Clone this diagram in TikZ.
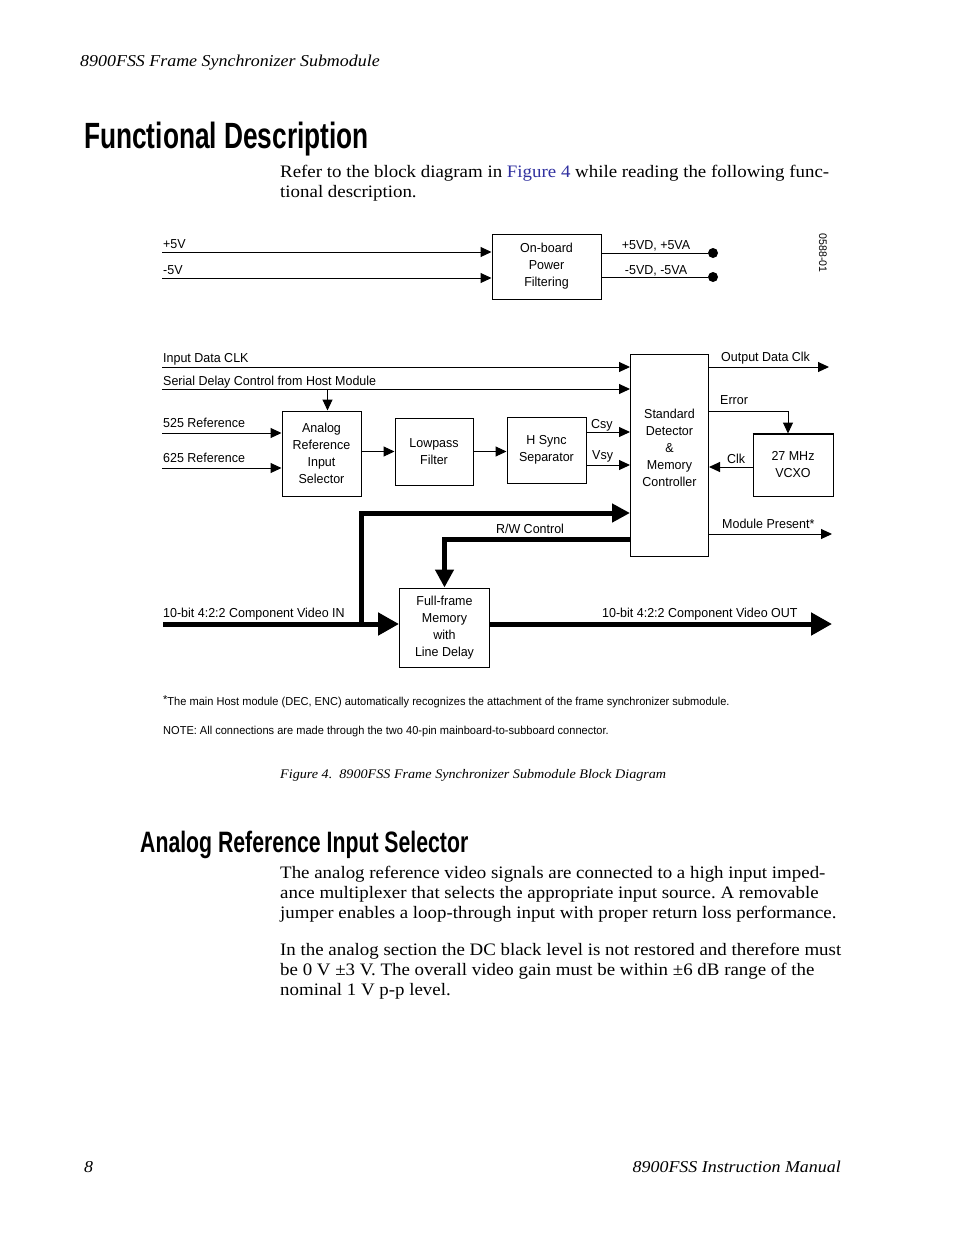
\documentclass[tikz,border=0pt]{standalone}
\usepackage{fontspec}
\setmainfont[FakeStretch=1.08]{Liberation Serif}
\newfontfamily\diagfont[FakeStretch=0.96]{Liberation Sans}
\newfontfamily\headfont[FakeStretch=0.72]{Liberation Sans}
\usetikzlibrary{positioning,arrows.meta}
\definecolor{linkblue}{RGB}{48,48,160}
\newcommand{\dsize}{\fontsize{13}{17}\selectfont}
\newcommand{\bodysize}{\fontsize{17.5}{20}\selectfont}
\frenchspacing

\begin{document}
\begin{tikzpicture}[x=1pt, y=-1pt,
  blk/.style={draw, line width=1pt, align=center, inner sep=0pt, font=\diagfont\dsize},
  lbl/.style={anchor=base west, inner sep=0pt, font=\diagfont\dsize},
  note/.style={anchor=base west, inner sep=0pt, font=\diagfont\fontsize{11.5}{14}\selectfont},
  body/.style={anchor=base west, inner sep=0pt, font=\bodysize},
  arr/.style={-{Triangle[length=11pt,width=10pt]}, line width=1pt},
  bus/.style={-{Triangle[length=18pt,width=18pt]}, line width=5pt},
  busbig/.style={-{Triangle[length=21pt,width=22pt]}, line width=5pt},
  dot/.style={circle, fill, inner sep=0pt, minimum size=10pt},
]
\fill[white] (0,0) rectangle (954,1235);
\useasboundingbox (0,0) rectangle (954,1235);

% page text
\node[anchor=base west, inner sep=0pt, font=\itshape\fontsize{16.6}{20}\selectfont] (hdr) at (80,66) {8900FSS Frame Synchronizer Submodule};
\node[anchor=base west, inner sep=0pt, font=\headfont\bfseries\fontsize{36.5}{40}\selectfont] (title) at (84,148) {Functional Description};
\node[body] (intro1) at (280,177) {Refer to the block diagram in \textcolor{linkblue}{Figure 4} while reading the following func-};
\node[body] (intro2) at (280,197) {tional description.};

% power section
\node[blk, minimum width=109pt, minimum height=65pt] (pwr) at (546.5,266.5) {On-board\\Power\\Filtering};
\coordinate (p5in) at (162,252);
\coordinate (m5in) at (162,278);
\node[lbl] (p5lbl) at (163,248) {+5V};
\node[lbl] (m5lbl) at (163,274) {-5V};
\draw[arr] (p5in) -- (pwr.west |- p5in);
\draw[arr] (m5in) -- (pwr.west |- m5in);
\node[dot] (p5out) at (713,253) {};
\node[dot] (m5out) at (713,277) {};
\draw[line width=1pt] (pwr.east |- p5out) -- (p5out);
\draw[line width=1pt] (pwr.east |- m5out) -- (m5out);
\node[lbl, anchor=base] (p5olbl) at (656,249) {+5VD, +5VA};
\node[lbl, anchor=base] (m5olbl) at (656,274) {-5VD, -5VA};
\node[rotate=-90, inner sep=0pt, font=\diagfont\fontsize{11}{11}\selectfont] (figid) at (823,253) {0588-01};

% main blocks
\node[blk, minimum width=79pt, minimum height=85pt] (anasel) at (321.5,453.5) {Analog\\Reference\\Input\\Selector};
\node[blk, minimum width=78pt, minimum height=67pt] (lpf) at (434,451.5) {Lowpass\\Filter};
\node[blk, minimum width=79pt, minimum height=66pt] (hsync) at (546.5,450) {H Sync\\Separator};
\node[blk, minimum width=78pt, minimum height=202pt] (ctrl) at (669.5,455) {};
\node[inner sep=0pt, align=center, font=\diagfont\dsize] (ctrltxt) at (669.5,448) {Standard\\Detector\\\&\\Memory\\Controller};
\node[blk, minimum width=80pt, minimum height=62pt] (vcxo) at (793,465) {27 MHz\\VCXO};
\draw[line width=2pt] (vcxo.north west) -- (vcxo.north east);
\node[blk, minimum width=90pt, minimum height=79pt] (mem) at (444.5,627.5) {Full-frame\\Memory\\with\\Line Delay};

% inputs
\coordinate (clkin) at (162,367);
\coordinate (serin) at (162,389);
\coordinate (r525) at (162,433);
\coordinate (r625) at (162,468);
\node[lbl] (clklbl) at (163,362) {Input Data CLK};
\node[lbl] (serlbl) at (163,385) {Serial Delay Control from Host Module};
\node[lbl] (r525lbl) at (163,427) {525 Reference};
\node[lbl] (r625lbl) at (163,462) {625 Reference};
\draw[arr] (clkin) -- (ctrl.west |- clkin);
\draw[arr] (serin) -- (ctrl.west |- serin);
\draw[arr] ([xshift=6pt]anasel.north |- serin) -- ([xshift=6pt]anasel.north);
\draw[arr] (r525) -- (anasel.west |- r525);
\draw[arr] (r625) -- (anasel.west |- r625);
\draw[arr] (anasel.east |- lpf.west) -- (lpf.west);
\draw[arr] (lpf.east) -- (hsync.west |- lpf.east);

% sync outputs
\coordinate (csy) at ([yshift=18pt]hsync.east);
\coordinate (vsy) at ([yshift=-15pt]hsync.east);
\draw[arr] (csy) -- (ctrl.west |- csy);
\draw[arr] (vsy) -- (ctrl.west |- vsy);
\node[lbl] (csylbl) at (591,428) {Csy};
\node[lbl] (vsylbl) at (592,459) {Vsy};

% controller outputs
\coordinate (odclk) at (829,367);
\coordinate (modp) at (832,534);
\draw[arr] (ctrl.east |- odclk) -- (odclk);
\node[lbl] (odclklbl) at (721,361) {Output Data Clk};
\draw[arr] ([yshift=44pt]ctrl.east) -| ([xshift=-5pt]vcxo.north);
\node[lbl] (errlbl) at (720,404) {Error};
\draw[arr] ([yshift=-2pt]vcxo.west) -- ([yshift=-2pt]ctrl.east |- vcxo.west);
\node[lbl] (clkolbl) at (727,463) {Clk};
\draw[arr] (ctrl.east |- modp) -- (modp);
\node[lbl] (modplbl) at (722,528) {Module Present*};

% video path
\coordinate (vin) at (163,624);
\coordinate (tap) at (361,624);
\coordinate (vout) at (832,624);
\node[lbl] (vinlbl) at (163,617) {10-bit 4:2:2 Component Video IN};
\node[lbl] (voutlbl) at (602,617) {10-bit 4:2:2 Component Video OUT};
\draw[busbig] (vin) -- (mem.west |- vin);
\draw[busbig] (mem.east |- vin) -- (vout);
\draw[bus] (tap) |- ([yshift=-58pt]ctrl.west);
\draw[bus] ([yshift=-84pt]ctrl.west) -| (mem.north);
\node[lbl, anchor=base] (rwlbl) at (530,533) {R/W Control};

% notes and caption
\node[note] (fnote) at (163,705) {\raisebox{2pt}{*}The main Host module (DEC, ENC) automatically recognizes the attachment of the frame synchronizer submodule.};
\node[note] (nnote) at (163,734) {NOTE: All connections are made through the two 40-pin mainboard-to-subboard connector.};
\node[anchor=base west, inner sep=0pt, font=\itshape\fontsize{13.1}{17}\selectfont] (cap) at (280,778) {Figure 4.\ \ 8900FSS Frame Synchronizer Submodule Block Diagram};

% second section
\node[anchor=base west, inner sep=0pt, font=\headfont\bfseries\fontsize{29.5}{34}\selectfont] (sect) at (140,852) {Analog Reference Input Selector};
\node[body] (pa1) at (280,878) {The analog reference video signals are connected to a high input imped-};
\node[body] (pa2) at (280,898) {ance multiplexer that selects the appropriate input source. A removable};
\node[body] (pa3) at (280,918) {jumper enables a loop-through input with proper return loss performance.};
\node[body] (pb1) at (280,955) {In the analog section the DC black level is not restored and therefore must};
\node[body] (pb2) at (280,975) {be 0 V ±3 V. The overall video gain must be within ±6 dB range of the};
\node[body] (pb3) at (280,995) {nominal 1 V p-p level.};

% footer
\node[anchor=base west, inner sep=0pt, font=\itshape\fontsize{16.6}{20}\selectfont] (pgnum) at (84,1172) {8};
\node[anchor=base east, inner sep=0pt, font=\itshape\fontsize{16.6}{20}\selectfont] (ftr) at (841,1172) {8900FSS Instruction Manual};
\end{tikzpicture}
\end{document}
